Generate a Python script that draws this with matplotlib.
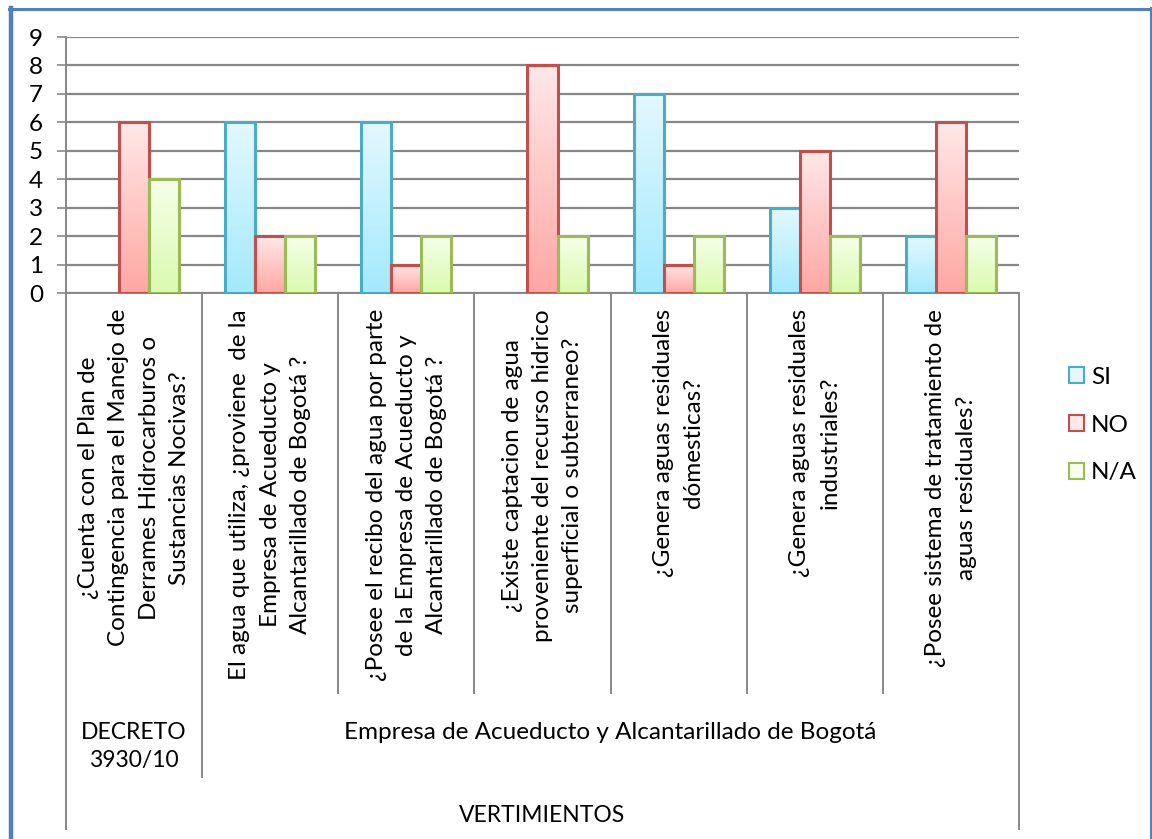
import numpy as np
import matplotlib
matplotlib.use("Agg")
import matplotlib.pyplot as plt
from matplotlib.patches import Patch
from matplotlib.lines import Line2D
from matplotlib.transforms import blended_transform_factory
import matplotlib.patheffects as pe

plt.rcParams['font.family'] = ['Lato', 'DejaVu Sans']

# ---- data ----
categories = [
    "¿Cuenta con el Plan de\nContingencia para el Manejo de\nDerrames Hidrocarburos o\nSustancias Nocivas?",
    "El agua que utiliza, ¿proviene  de la\nEmpresa de Acueducto y\nAlcantarillado de Bogotá ?",
    "¿Posee el recibo del agua por parte\nde la Empresa de Acueducto y\nAlcantarillado de Bogotá ?",
    "¿Existe captacion de agua\nproveniente del recurso hidrico\nsuperficial o subterraneo?",
    "¿Genera aguas residuales\ndómesticas?",
    "¿Genera aguas residuales\nindustriales?",
    "¿Posee sistema de tratamiento de\naguas residuales?",
]
groups = ["DECRETO\n3930/10", "Empresa de Acueducto y Alcantarillado de Bogotá"]
group_sizes = [1, 6]
top_group = "VERTIMIENTOS"
series_names = ["SI", "NO", "N/A"]
si_values = [0, 6, 6, 0, 7, 3, 2]
no_values = [6, 2, 1, 8, 1, 5, 6]
na_values = [4, 2, 2, 2, 2, 2, 2]
yticks = list(range(0, 10))

# ---- style ----
W, H = 1152, 839
edge_colors = ["#4BACC6", "#C0504D", "#9BBB59"]
top_colors = ["#E4F8FF", "#FFE8E8", "#F6FFEA"]
bot_colors = ["#A3E9FD", "#FFA7A3", "#DAFAAF"]
grid_c = "#878787"
fs_cat = 17.5
fs_tick = 17.5
fs_caps = 16.5

fig = plt.figure(figsize=(W / 100, H / 100), dpi=100)
ax = fig.add_axes([66 / W, 1 - 293 / H, (1019 - 66) / W, (293 - 37) / H])
n = len(categories)

bw = 30 / 136
x = np.arange(n) + 0.5
all_vals = [si_values, no_values, na_values]

def hex2rgb(h):
    h = h.lstrip('#')
    return np.array([int(h[i:i + 2], 16) / 255 for i in (0, 2, 4)])

for k, vals in enumerate(all_vals):
    xs = x + (k - 1) * bw
    v = np.array(vals, dtype=float)
    mask = v > 0
    # shadow layer
    ax.bar(xs[mask], v[mask], width=bw, color='white', zorder=2,
           path_effects=[pe.SimplePatchShadow(offset=(1.5, -1.5), shadow_rgbFace='#9a9a9a', alpha=0.4),
                         pe.Normal()])
    bars = ax.bar(xs[mask], v[mask], width=bw, facecolor='none',
                  edgecolor=edge_colors[k], linewidth=2.2, zorder=4)
    t = hex2rgb(top_colors[k]); b = hex2rgb(bot_colors[k])
    grad = np.linspace(0, 1, 256)[:, None]
    img = (t[None, None, :] * (1 - grad[:, :, None]) + b[None, None, :] * grad[:, :, None])
    for r in bars:
        x0, y0 = r.get_x(), r.get_y()
        im = ax.imshow(img, extent=[x0, x0 + r.get_width(), y0, y0 + r.get_height()],
                       origin='upper', aspect='auto', zorder=3, interpolation='bilinear')
        im.set_clip_path(r)

ax.set_xlim(0, n)
ax.set_ylim(0, 9)

# grid & axes
ax.set_yticks(yticks)
ax.yaxis.grid(True, color=grid_c, linewidth=1.6)
ax.set_axisbelow(True)
ax.tick_params(axis='y', length=6.5, width=1.2, color=grid_c, direction='out',
               labelsize=fs_tick, pad=10)
ax.set_xticks([])
for s in ['top', 'right']:
    ax.spines[s].set_visible(False)
for s in ['left', 'bottom']:
    ax.spines[s].set_color(grid_c)
    ax.spines[s].set_linewidth(1.4)

tr = blended_transform_factory(ax.transData, fig.transFigure)
def fy(p):
    return 1 - p / H

# category dividers
bounds_level2 = np.cumsum([0] + group_sizes)
for i in range(n + 1):
    if i == 0 or i == n:
        end = 829
    elif i in bounds_level2:
        end = 777
    else:
        end = 693
    ax.add_line(Line2D([i, i], [fy(293), fy(end)], transform=tr, color=grid_c,
                       linewidth=1.4, clip_on=False))

# category labels
for i, lab in enumerate(categories):
    ax.text(i + 0.5, fy(309), lab, transform=tr, rotation=90, ha='center', va='top',
            multialignment='center', fontsize=fs_cat, linespacing=1.55, color='black')

# group labels
for gi, g in enumerate(groups):
    c = (bounds_level2[gi] + bounds_level2[gi + 1]) / 2
    ax.text(c, fy(722), g, transform=tr, ha='center', va='top', multialignment='center',
            fontsize=fs_caps if gi == 0 else fs_cat, linespacing=1.4, color='black')

ax.text(n / 2, fy(816), top_group, transform=tr, ha='center', va='center',
        fontsize=fs_caps, color='black')

# legend
handles = [Patch(facecolor=top_colors[k], edgecolor=edge_colors[k], linewidth=1.5)
           for k in range(3)]
fig.legend(handles, series_names, loc='center left',
           bbox_to_anchor=(1059 / W, fy(425)), frameon=False, fontsize=fs_tick,
           handlelength=0.62, handleheight=0.62, handletextpad=0.3, labelspacing=1.1,
           borderaxespad=0)

# blue frame
bc = "#4F81BD"
fig.add_artist(Line2D([11 / W, 11 / W], [fy(8), 0], transform=fig.transFigure, color=bc, linewidth=3.2))
fig.add_artist(Line2D([9 / W, 1151 / W], [fy(9), fy(9)], transform=fig.transFigure, color=bc, linewidth=2.2))
fig.add_artist(Line2D([1150.5 / W, 1150.5 / W], [fy(8), 0], transform=fig.transFigure, color=bc, linewidth=2.2))

fig.savefig("out.png", dpi=100, facecolor='white')
